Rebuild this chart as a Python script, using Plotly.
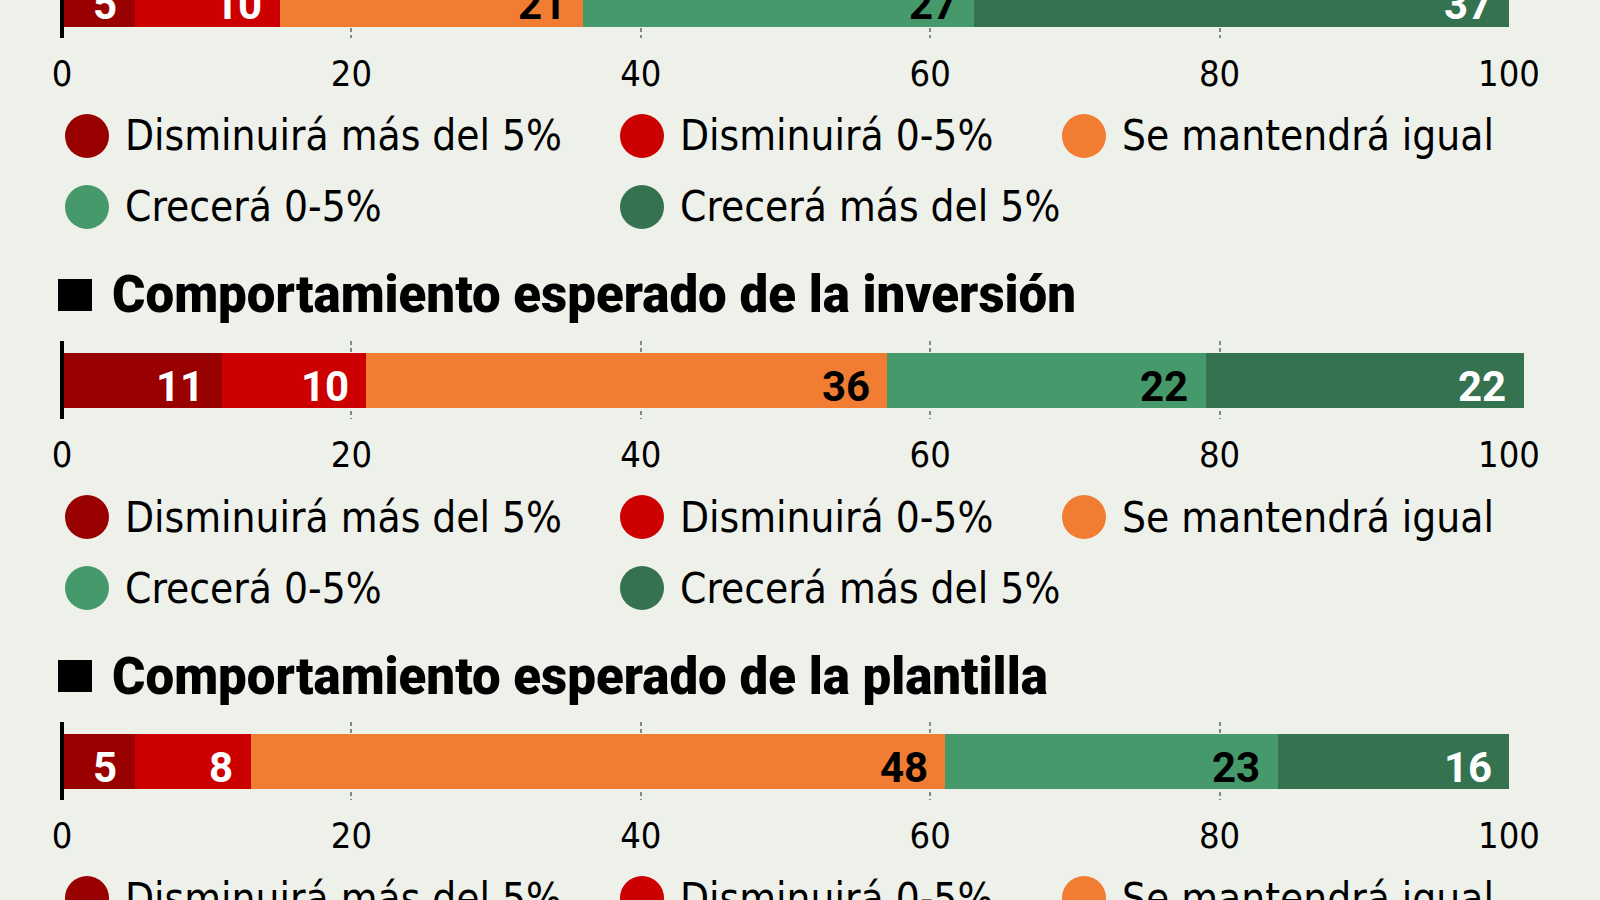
import plotly.graph_objects as go

# ---------------- data ----------------
categories = ["Disminuirá más del 5%", "Disminuirá 0-5%", "Se mantendrá igual",
              "Crecerá 0-5%", "Crecerá más del 5%"]
colors = ["#990000", "#cc0000", "#f07d32", "#46996a", "#357350"]
label_colors = ["#ffffff", "#ffffff", "#000000", "#000000", "#ffffff"]

values_s1 = [5, 10, 21, 27, 37]          # (section above, title cropped)
values_s2 = [11, 10, 36, 22, 22]         # inversión
values_s3 = [5, 8, 48, 23, 16]           # plantilla
section_values = [values_s1, values_s2, values_s3]
section_titles = [None,
                  "Comportamiento esperado de la inversión",
                  "Comportamiento esperado de la plantilla"]

tick_vals = [0, 20, 40, 60, 80, 100]
tick_text = ["0", "20", "40", "60", "80", "100"]
grid_vals = [20, 40, 60, 80]

# ---------------- layout constants (pixels) ----------------
W, H = 1600, 900
BG = "#eef0ea"
X0 = 62.0          # pixel of value 0
PXU = 14.47        # pixels per unit
XMIN, XMAX = -1, 105
PERIOD = 381       # vertical distance between sections
G_TOP, G_BOT = 341, 419     # grid span of section 2
BAR_H = 55
TITLE_Y = 295
LEG_ROWS = [517, 588]
LEG_COLS_CIRCLE = [87, 642, 1084]
LEG_TEXT_DX = 36
LEG_R = 22

FONT = "DejaVu Sans Condensed, DejaVu Sans, sans-serif"
FONT_B = "Roboto, DejaVu Sans Condensed, sans-serif"


def px(x):
    return x / W


def py(y):
    return 1 - y / H


fig = go.Figure()
shapes = []
annotations = []

xdom = [px(X0 + XMIN * PXU), px(X0 + XMAX * PXU)]
G = G_BOT - G_TOP

for s, vals in enumerate(section_values):
    off = (s - 1) * PERIOD
    gtop, gbot = G_TOP + off, G_BOT + off
    top_c, bot_c = max(gtop, 0), min(gbot, H)

    def val(p):
        return 0.5 - (p - gtop) / G

    suffix = "" if s == 0 else str(s + 1)
    xa, ya = "x" + suffix, "y" + suffix

    fig.update_layout({
        "xaxis" + suffix: dict(
            domain=xdom, range=[XMIN, XMAX], anchor=ya,
            tickmode="array", tickvals=tick_vals, ticktext=tick_text,
            tickfont=dict(family=FONT, size=36, color="#000000"),
            ticks="", showgrid=False, zeroline=False, showline=False,
            ticklabelstandoff=11,
            minor=dict(tickmode="array", tickvals=grid_vals, showgrid=True,
                       gridcolor="#7f8a84", gridwidth=1.5, griddash="4px,3px",
                       ticks=""),
            fixedrange=True,
        ),
        "yaxis" + suffix: dict(
            domain=[py(bot_c), py(top_c)], range=[val(bot_c), val(top_c)],
            anchor=xa, showticklabels=False, showgrid=False, zeroline=False,
            showline=False, ticks="", fixedrange=True,
        ),
    })

    bar_c = gtop + G / 2
    cum = 0
    for i, v in enumerate(vals):
        fig.add_trace(go.Bar(
            x=[v], y=[0], orientation="h", width=BAR_H / G,
            marker=dict(color=colors[i], line=dict(width=0)),
            xaxis=xa, yaxis=ya, showlegend=False, hoverinfo="skip",
            name=categories[i],
        ))
        cum += v
        annotations.append(dict(
            x=cum, xref=xa, y=py(bar_c + 6), yref="paper",
            text=str(v), showarrow=False, xanchor="right", yanchor="middle",
            xshift=-15,
            font=dict(family=FONT_B, size=42, color=label_colors[i], weight="bold"),
        ))

    # zero line (axis baseline)
    shapes.append(dict(type="line", xref=xa, yref=ya + " domain",
                       x0=0, x1=0, y0=0, y1=1,
                       line=dict(color="#000000", width=4), layer="above"))

    # section title
    if section_titles[s] is not None:
        ty = TITLE_Y + off
        shapes.append(dict(type="rect", xref="paper", yref="paper",
                           x0=px(58), x1=px(92), y0=py(ty + 16), y1=py(ty - 16),
                           fillcolor="#000000", line=dict(width=0)))
        annotations.append(dict(
            x=px(110), y=py(ty), xref="paper", yref="paper",
            text=section_titles[s], showarrow=False,
            xanchor="left", yanchor="middle",
            font=dict(family=FONT_B, size=51, color="#000000", weight=900),
        ))

    # legend
    for i, cat in enumerate(categories):
        row, col = divmod(i, 3)
        ly = LEG_ROWS[row] + off
        if ly - LEG_R > H or ly + LEG_R < 0:
            continue
        cx = LEG_COLS_CIRCLE[col]
        shapes.append(dict(type="circle", xref="paper", yref="paper",
                           x0=px(cx - LEG_R), x1=px(cx + LEG_R),
                           y0=py(ly + LEG_R), y1=py(ly - LEG_R),
                           fillcolor=colors[i], line=dict(width=0)))
        annotations.append(dict(
            x=px(cx + LEG_TEXT_DX), y=py(ly), xref="paper", yref="paper",
            text=cat, showarrow=False, xanchor="left", yanchor="middle",
            font=dict(family=FONT, size=42, color="#000000"),
        ))

fig.update_layout(
    width=W, height=H, autosize=False,
    margin=dict(l=0, r=0, t=0, b=0),
    paper_bgcolor=BG, plot_bgcolor=BG,
    barmode="stack", bargap=0,
    shapes=shapes, annotations=annotations,
    showlegend=False,
)

fig.write_html("out.html", config={"displayModeBar": False},
               post_script="document.body.style.margin='0px';")
